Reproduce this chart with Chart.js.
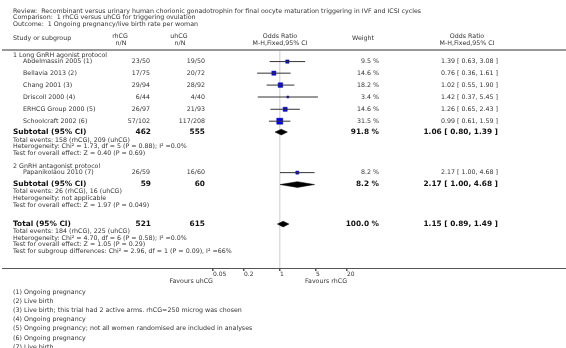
<!DOCTYPE html>
<html>
<head>
<meta charset="utf-8">
<script src="https://cdn.jsdelivr.net/npm/chart.js@4"></script>
<style>
  html, body { margin: 0; padding: 0; background: #fff; }
  #wrap { width: 566px; height: 348px; }
</style>
</head>
<body>
<div id="wrap"><canvas id="forest" width="566" height="348"></canvas></div>
<script>
const titleLines = [
  "Review:  Recombinant versus urinary human chorionic gonadotrophin for final oocyte maturation triggering in IVF and ICSI cycles",
  "Comparison:  1 rhCG versus uhCG for triggering ovulation",
  "Outcome:  1 Ongoing pregnancy/live birth rate per woman",
];

// studies
const studies = ["Abdelmassin 2005 (1)", "Bellavia 2013 (2)", "Chang 2001 (3)", "Driscoll 2000 (4)", "ERHCG Group 2000 (5)", "Schoolcraft 2002 (6)", "Papanikolaou 2010 (7)"];
const rhcgEvents = ["23/50", "17/75", "29/94", "6/44", "26/97", "57/102", "26/59"];
const uhcgEvents = ["19/50", "20/72", "28/92", "4/40", "21/93", "117/208", "16/60"];
const weights = [9.5, 14.6, 18.2, 3.4, 14.6, 31.5, 8.2];
const oddsRatio = [1.39, 0.76, 1.02, 1.42, 1.26, 0.99, 2.17];
const ciLow = [0.63, 0.36, 0.55, 0.37, 0.65, 0.61, 1.00];
const ciHigh = [3.08, 1.61, 1.90, 5.45, 2.43, 1.59, 4.68];
const studyRow = [1.7, 3.4, 5.15, 6.9, 8.7, 10.45, 18.0];

// subgroups
const groupNames = ["1 Long GnRH agonist protocol", "2 GnRH antagonist protocol"];
const groupRow = [0.85, 17.15];

// pooled results
const totalLabels = ["Subtotal (95% CI)", "Subtotal (95% CI)", "Total (95% CI)"];
const totalRh = ["462", "59", "521"];
const totalUh = ["555", "60", "615"];
const totalWeight = [91.8, 8.2, 100.0];
const totalOR = [1.06, 2.17, 1.15];
const totalLow = [0.80, 1.00, 0.89];
const totalHigh = [1.39, 4.68, 1.49];
const totalRow = [12.05, 19.75, 25.55];

const statLines = [
  "Total events: 158 (rhCG), 209 (uhCG)",
  "Heterogeneity: Chi\u00b2 = 1.73, df = 5 (P = 0.88); I\u00b2 =0.0%",
  "Test for overall effect: Z = 0.40 (P = 0.69)",
  "Total events: 26 (rhCG), 16 (uhCG)",
  "Heterogeneity: not applicable",
  "Test for overall effect: Z = 1.97 (P = 0.049)",
  "Total events: 184 (rhCG), 225 (uhCG)",
  "Heterogeneity: Chi\u00b2 = 4.70, df = 6 (P = 0.58); I\u00b2 =0.0%",
  "Test for overall effect: Z = 1.05 (P = 0.29)",
  "Test for subgroup differences: Chi\u00b2 = 2.96, df = 1 (P = 0.09), I\u00b2 =66%",
];
const statRow = [13.2, 14.2, 15.2, 20.75, 21.75, 22.75, 26.6, 27.6, 28.6, 29.6];

const xTicks = [0.05, 0.2, 1, 5, 20];

const footnotes = [
  "(1) Ongoing pregnancy",
  "(2) Live birth",
  "(3) Live birth; this trial had 2 active arms. rhCG=250 microg was chosen",
  "(4) Ongoing pregnancy",
  "(5) Ongoing pregnancy; not all women randomised are included in analyses",
  "(6) Ongoing pregnancy",
  "(7) Live birth",
];

const FONT = "DejaVu Sans";
const small = "6.3px '" + FONT + "'";
const bold = "bold 7.4px '" + FONT + "'";
const fmt = (v) => v.toFixed(2);
const orText = (e, l, h) => fmt(e) + " [ " + fmt(l) + ", " + fmt(h) + " ]";

// CI whiskers
const ciSets = studies.map((s, i) => ({
  data: [{ x: ciLow[i], y: studyRow[i] }, { x: ciHigh[i], y: studyRow[i] }],
  borderColor: "#333",
  borderWidth: 1,
  pointRadius: 0,
  fill: false,
}));

// pooled diamonds
const dh = 0.42;
const diamondSets = totalOR.map((e, i) => ({
  data: [
    { x: totalLow[i], y: totalRow[i] },
    { x: e, y: totalRow[i] - dh },
    { x: totalHigh[i], y: totalRow[i] },
    { x: e, y: totalRow[i] + dh },
    { x: totalLow[i], y: totalRow[i] },
  ],
  borderColor: "#000",
  backgroundColor: "#000",
  borderWidth: 0.5,
  pointRadius: 0,
  fill: "shape",
}));

const squareSet = {
  data: studies.map((s, i) => ({ x: oddsRatio[i], y: studyRow[i] })),
  showLine: false,
  pointStyle: "rect",
  pointRadius: (ctx) => 0.76 * Math.sqrt(weights[ctx.dataIndex]),
  pointBackgroundColor: "#0000ff",
  pointBorderColor: "#00008b",
  pointBorderWidth: 0.5,
};

const textPlugin = {
  id: "forestText",
  afterDraw(chart) {
    const ctx = chart.ctx;
    const y = chart.scales.y;
    const area = chart.chartArea;
    const W = chart.width;
    ctx.save();
    ctx.fillStyle = "#333";
    ctx.textBaseline = "middle";

    const put = (t, x, yy, align, font) => {
      ctx.font = font || small;
      ctx.textAlign = align || "left";
      ctx.fillText(t, x, yy);
    };

    titleLines.forEach((t, i) => put(t, 13, 11 + i * 6.7));

    // header
    put("Study or subgroup", 13, 38);
    put("rhCG", 120, 36, "center");
    put("n/N", 121, 43, "center");
    put("uhCG", 179, 36, "center");
    put("n/N", 180, 43, "center");
    put("Odds Ratio", 280, 36, "center");
    put("M-H,Fixed,95% CI", 280, 43, "center");
    put("Weight", 363, 38, "center");
    put("Odds Ratio", 467, 36, "center");
    put("M-H,Fixed,95% CI", 467, 43, "center");

    ctx.strokeStyle = "#999";
    ctx.lineWidth = 2;
    ctx.beginPath();
    ctx.moveTo(2, area.top);
    ctx.lineTo(W, area.top);
    ctx.stroke();

    groupNames.forEach((g, i) => put(g, 13, y.getPixelForValue(groupRow[i])));

    studies.forEach((s, i) => {
      const yy = y.getPixelForValue(studyRow[i]);
      put(s, 23, yy);
      put(rhcgEvents[i], 150, yy, "right");
      put(uhcgEvents[i], 205, yy, "right");
      put(weights[i].toFixed(1) + " %", 379, yy, "right");
      put(orText(oddsRatio[i], ciLow[i], ciHigh[i]), 498, yy, "right");
    });

    ctx.fillStyle = "#111";
    totalLabels.forEach((t, i) => {
      const yy = y.getPixelForValue(totalRow[i]);
      put(t, 13, yy, "left", bold);
      put(totalRh[i], 151, yy, "right", bold);
      put(totalUh[i], 205, yy, "right", bold);
      put(totalWeight[i].toFixed(1) + " %", 379, yy, "right", bold);
      put(orText(totalOR[i], totalLow[i], totalHigh[i]), 498, yy, "right", bold);
    });

    ctx.fillStyle = "#333";
    statLines.forEach((t, i) => put(t, 13, y.getPixelForValue(statRow[i])));

    // axis line across the page
    ctx.strokeStyle = "#555";
    ctx.lineWidth = 1;
    ctx.beginPath();
    ctx.moveTo(2, area.bottom + 0.5);
    ctx.lineTo(W, area.bottom + 0.5);
    ctx.stroke();

    const xs = chart.scales.x;
    put("Favours uhCG", xs.getPixelForValue(0.05), 281, "right");
    put("Favours rhCG", xs.getPixelForValue(5) - 11, 281, "left");

    footnotes.forEach((t, i) => put(t, 13, 292 + i * 9.2));
    ctx.restore();
  },
};

new Chart(document.getElementById("forest"), {
  type: "line",
  data: { datasets: [...ciSets, ...diamondSets, squareSet] },
  options: {
    responsive: false,
    animation: false,
    layout: { padding: { left: 213, right: 219, top: 50, bottom: 0 } },
    plugins: { legend: { display: false }, tooltip: { enabled: false } },
    scales: {
      x: {
        type: "logarithmic",
        min: 0.05,
        max: 20,
        afterBuildTicks: (scale) => {
          scale.ticks = xTicks.map((v) => ({ value: v }));
        },
        afterFit: (scale) => {
          scale.height = 80;
        },
        ticks: {
          callback: (v) => String(v),
          autoSkip: false,
          maxRotation: 0,
          align: "start",
          padding: 0,
          color: "#333",
          font: { family: FONT, size: 6 },
        },
        grid: {
          color: (c) => (c.tick && c.tick.value === 1 ? "#dddddd" : "rgba(0,0,0,0)"),
          lineWidth: 1.5,
          tickColor: "#555",
          tickLength: 3,
        },
        border: { display: false },
      },
      y: {
        type: "linear",
        reverse: true,
        min: 0,
        max: 32,
        display: false,
      },
    },
  },
  plugins: [textPlugin],
});
</script>
</body>
</html>
